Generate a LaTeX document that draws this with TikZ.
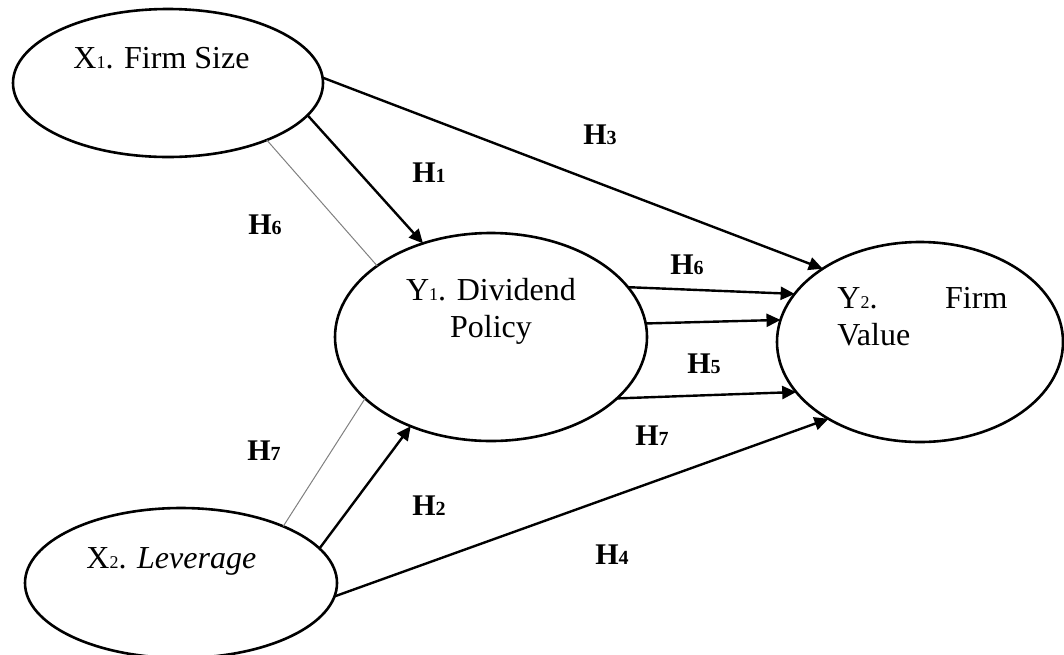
\documentclass[tikz,border=0pt]{standalone}
\usepackage{fontspec}
\setmainfont{Liberation Serif}
\usetikzlibrary{arrows.meta,shapes.geometric}
\newcommand{\lsub}[1]{{\fontsize{9}{9}\selectfont #1}}
\newcommand{\hsub}[1]{{\fontsize{10}{10}\selectfont #1}}
\begin{document}
\begin{tikzpicture}[x=0.5pt,y=-0.5pt,
  ell/.style={draw,ellipse,line width=1.3pt,inner sep=0pt,outer sep=0pt},
  txt/.style={inner sep=0pt,anchor=base west,font=\fontsize{16}{18.5}\selectfont},
  lab/.style={inner sep=0pt,anchor=base west,font=\fontsize{15}{15}\selectfont\bfseries},
  arr/.style={line width=1.2pt,-{Triangle[length=7pt,width=6.5pt]}},
  thinline/.style={line width=0.5pt,draw=gray}]
\useasboundingbox (0,0) rectangle (1064,654);
% ellipses
\node[ell,minimum width=155pt,minimum height=74pt] (X1) at (168,83) {};
\node[ell,minimum width=156pt,minimum height=104pt] (Y1) at (491,337) {};
\node[ell,minimum width=143pt,minimum height=100pt] (Y2) at (920,342) {};
\node[ell,minimum width=156pt,minimum height=75pt] (X2) at (181,583) {};
% texts
\node[txt] (tX1) at (73,68) {X\lsub{1}. Firm Size};
\node[txt,anchor=base] (tY1) at (491,300) {\parbox[t]{100pt}{\centering Y\lsub{1}. Dividend\\Policy}};
\node[txt] (tY2) at (837,308) {\parbox[t]{85pt}{Y\lsub{2}.\hfill Firm\\Value}};
\node[txt] (tX2) at (86,568) {X\lsub{2}. \textit{Leverage}};
% connectors
\draw[arr] (X1.2) -- (Y2.143);
\draw[arr] (X1.-13) -- (Y1.126);
\draw[thinline] (X1.-30) -- (Y1.148);
\draw[arr] (Y1.20.6) -- (Y2.159.4);
\draw[arr] (Y1.5) -- (Y2.171.6);
\draw[arr] (Y1.-26.6) -- (Y2.202.2);
\draw[arr] (X2.14) -- (Y1.228.2);
\draw[thinline] (X2.29) -- (Y1.206.6);
\draw[arr] (X2.-5) -- (Y2.220.2);
% labels
\node[lab] (h1) at (412,182) {H\hsub{1}};
\node[lab] (h3) at (583,144) {H\hsub{3}};
\node[lab] (h6r) at (670,274) {H\hsub{6}};
\node[lab] (h6l) at (248,234) {H\hsub{6}};
\node[lab] (h5) at (687,373) {H\hsub{5}};
\node[lab] (h7r) at (635,445) {H\hsub{7}};
\node[lab] (h7l) at (247,460) {H\hsub{7}};
\node[lab] (h2) at (412,515) {H\hsub{2}};
\node[lab] (h4) at (595,564) {H\hsub{4}};
\end{tikzpicture}
\end{document}
